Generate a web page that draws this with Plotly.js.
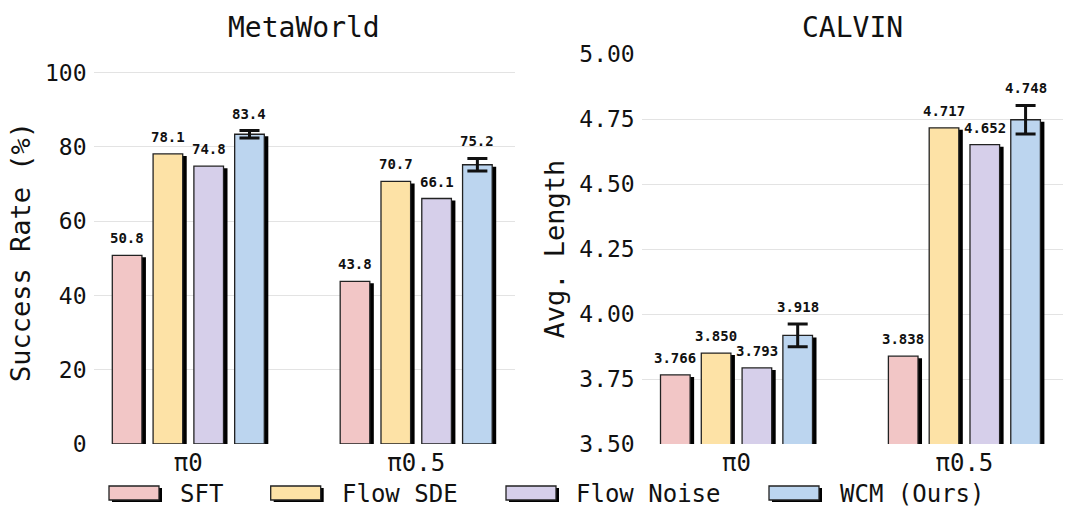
<!DOCTYPE html>
<html>
<head>
<meta charset="utf-8">
<script src="https://cdn.plot.ly/plotly-3.0.1.min.js"></script>
<style>html,body{margin:0;padding:0;background:#fff;}#chart{width:1080px;height:524px;}</style>
</head>
<body>
<div id="chart"></div>
<script>
// ---------- data ----------
const categories = ['π0', 'π0.5'];
const seriesNames = ['SFT', 'Flow SDE', 'Flow Noise', 'WCM (Ours)'];

const metaSFT = [50.8, 43.8];
const metaFlowSDE = [78.1, 70.7];
const metaFlowNoise = [74.8, 66.1];
const metaWCM = [83.4, 75.2];
const metaWCMErr = [1.0, 1.7];

const calvinSFT = [3.766, 3.838];
const calvinFlowSDE = [3.850, 4.717];
const calvinFlowNoise = [3.793, 4.652];
const calvinWCM = [3.918, 4.748];
const calvinWCMErr = [0.044, 0.055];

const metaTicks = [0, 20, 40, 60, 80, 100];
const calvinTicks = [3.50, 3.75, 4.00, 4.25, 4.50, 4.75, 5.00];

// ---------- style ----------
const colors = ['#F2C6C6', '#FDE2A6', '#D6CFEA', '#BCD5EF'];
const FONT = 'DejaVu Sans Mono';
const W = 1080, H = 524;
const slot = 0.179, bw = 0.13;
const xr = [-0.416, 1.434];
const pxPerCat = 227.8;
const shadowDX = 4, shadowDY = 2;

const panels = [
  {name: 'MetaWorld', series: [metaSFT, metaFlowSDE, metaFlowNoise, metaWCM], err: metaWCMErr,
   yr: [0, 103.4], ticks: metaTicks, tickFmt: v => String(v), lblFmt: v => v.toFixed(1),
   ytitle: 'Success Rate (%)', dom: [93.5/W, 515.1/W], ydom: [80/H, (H-60)/H],
   base: ['x', 'y'], top: ['x3', 'y3']},
  {name: 'CALVIN', series: [calvinSFT, calvinFlowSDE, calvinFlowNoise, calvinWCM], err: calvinWCMErr,
   yr: [3.5, 5.0], ticks: calvinTicks, tickFmt: v => v.toFixed(2), lblFmt: v => v.toFixed(3),
   ytitle: 'Avg. Length', dom: [641.7/W, 1063.3/W], ydom: [80/H, (H-54.3)/H],
   base: ['x2', 'y2'], top: ['x4', 'y4']}
];

const traces = [];
const annotations = [];
const layout = {
  width: W, height: H,
  margin: {l: 0, r: 0, t: 0, b: 0},
  paper_bgcolor: '#fff', plot_bgcolor: 'rgba(0,0,0,0)',
  barmode: 'overlay', showlegend: false,
  font: {family: FONT, color: '#111'},
  shapes: [], annotations: annotations
};

panels.forEach((p, pi) => {
  const plotH = (p.ydom[1] - p.ydom[0]) * H;
  const pxPerY = plotH / (p.yr[1] - p.yr[0]);
  const dxu = shadowDX / pxPerCat, dyu = shadowDY / pxPerY;
  // shadow axes (base, hidden)
  const bx = p.base[0] === 'x' ? 'xaxis' : 'xaxis2';
  const by = p.base[1] === 'y' ? 'yaxis' : 'yaxis2';
  layout[bx] = {domain: p.dom, range: [xr[0] - dxu, xr[1] - dxu], type: 'category', categoryarray: categories,
    showgrid: false, showticklabels: false, zeroline: false, showline: false, fixedrange: true};
  layout[by] = {domain: p.ydom, range: [p.yr[0] + dyu, p.yr[1] + dyu], showgrid: false, showticklabels: false,
    zeroline: false, showline: false, anchor: p.base[0], fixedrange: true};
  if (p.base[0] === 'x2') layout[bx].anchor = 'y2';
  // top axes (visible)
  const tx = p.top[0] === 'x3' ? 'xaxis3' : 'xaxis4';
  const ty = p.top[1] === 'y3' ? 'yaxis3' : 'yaxis4';
  layout[tx] = {overlaying: p.base[0], range: xr, type: 'category', categoryarray: categories,
    showgrid: false, zeroline: false, showline: false, ticks: '', anchor: p.top[1],
    tickfont: {family: FONT, size: 24, color: '#111'}, ticklabelstandoff: 2};
  layout[ty] = {overlaying: p.base[1], range: p.yr, anchor: p.top[0], side: 'left',
    tickvals: p.ticks, ticktext: p.ticks.map(p.tickFmt),
    showgrid: true, gridcolor: '#e3e3e3', gridwidth: 1, zeroline: false, showline: false, ticks: '',
    tickfont: {family: FONT, size: 23, color: '#111'}, ticklabelstandoff: 6,
    title: {text: p.ytitle, font: {family: FONT, size: 27, color: '#111'}, standoff: 6}};

  p.series.forEach((vals, i) => {
    const off = (i - 1.5) * slot - bw / 2;
    traces.push({type: 'bar', x: categories, y: vals, xaxis: p.base[0], yaxis: p.base[1],
      offset: off, width: bw, marker: {color: '#000', line: {width: 0}}, hoverinfo: 'skip'});
  });
  p.series.forEach((vals, i) => {
    const off = (i - 1.5) * slot - bw / 2;
    const t = {type: 'bar', name: seriesNames[i], x: categories, y: vals, xaxis: p.top[0], yaxis: p.top[1],
      offset: off, width: bw, marker: {color: colors[i], line: {color: '#222', width: 1.3}}};
    if (i === 3) {
      t.error_y = {type: 'data', array: p.err, visible: true, color: '#111', thickness: 3, width: 10};
    }
    traces.push(t);
    vals.forEach((v, ci) => {
      const e = (i === 3) ? p.err[ci] : 0;
      annotations.push({xref: p.top[0], yref: p.top[1], x: ci + (i - 1.5) * slot, y: v + e,
        text: '<b>' + p.lblFmt(v) + '</b>', showarrow: false, yanchor: 'middle', yshift: 17,
        font: {family: FONT, size: 14, color: '#111'}});
    });
  });
  annotations.push({xref: 'paper', yref: 'paper', x: (p.dom[0] + p.dom[1]) / 2, y: (H - 28) / H,
    text: p.name, showarrow: false, xanchor: 'center', yanchor: 'middle',
    font: {family: FONT, size: 28, color: '#111'}});
});

// ---------- custom legend ----------
const legendRectX = [109, 270.7, 506, 769];
const legendTextX = [178, 340, 573.5, 838];
const legTop = 486, legBot = 500, legW = 50;
seriesNames.forEach((n, i) => {
  layout.shapes.push({type: 'rect', xref: 'paper', yref: 'paper',
    x0: (legendRectX[i] + 3) / W, x1: (legendRectX[i] + legW + 3) / W,
    y0: (H - legBot - 2) / H, y1: (H - legTop - 2) / H,
    fillcolor: '#000', line: {width: 0}});
  layout.shapes.push({type: 'rect', xref: 'paper', yref: 'paper',
    x0: legendRectX[i] / W, x1: (legendRectX[i] + legW) / W,
    y0: (H - legBot) / H, y1: (H - legTop) / H,
    fillcolor: colors[i], line: {color: '#222', width: 1.3}});
  annotations.push({xref: 'paper', yref: 'paper', x: legendTextX[i] / W, y: (H - 494) / H,
    text: n, showarrow: false, xanchor: 'left', yanchor: 'middle',
    font: {family: FONT, size: 24, color: '#111'}});
});

Plotly.newPlot('chart', traces, layout, {staticPlot: true, displayModeBar: false});
</script>
</body>
</html>
